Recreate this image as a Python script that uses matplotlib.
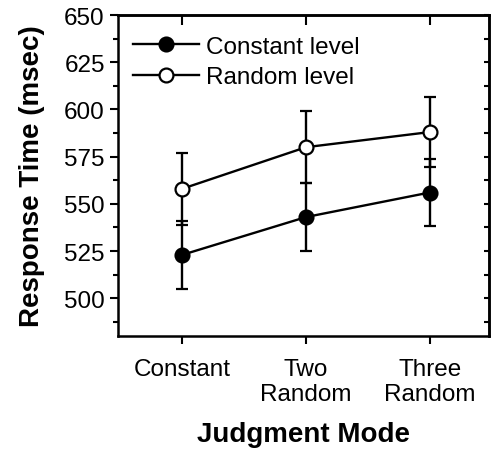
import matplotlib
matplotlib.use('Agg')
import matplotlib.pyplot as plt
from matplotlib.ticker import MultipleLocator
from matplotlib.lines import Line2D

plt.rcParams['font.family'] = ['Liberation Sans', 'DejaVu Sans']

modes = ['Constant', 'Two\nRandom', 'Three\nRandom']
constant_rt = [523, 543, 556]
constant_err = [18, 18, 18]
random_rt = [558, 580, 588]
random_err = [19, 19, 18.5]

fig = plt.figure(figsize=(4.94, 4.52), dpi=100)
ax = fig.add_axes([0.239, 0.2544, 0.751, 0.7102])

x = list(range(len(modes)))
ax.errorbar(x, constant_rt, yerr=constant_err, color='black', lw=1.7,
            marker='o', ms=10, mfc='black', mec='black', mew=1.6,
            capsize=4, capthick=1.7, zorder=3)
ax.errorbar(x, random_rt, yerr=random_err, color='black', lw=1.7,
            marker='o', ms=10, mfc='white', mec='black', mew=1.6,
            capsize=4, capthick=1.7, zorder=4)

ax.set_xlim(-0.52, 2.48)
ax.set_ylim(480, 650)
ax.set_xticks(x)
ax.set_xticklabels(modes, fontsize=17.5, linespacing=1.15)
ax.yaxis.set_major_locator(MultipleLocator(25))
ax.yaxis.set_minor_locator(MultipleLocator(12.5))
ax.set_yticks([500, 525, 550, 575, 600, 625, 650])
ax.tick_params(axis='y', which='major', labelsize=17.5, direction='out', length=6, width=1.5)
ax.tick_params(axis='y', which='minor', direction='out', length=3.5, width=1.5)
ax.tick_params(axis='x', direction='out', length=6, width=1.5, pad=10)

# inward ticks on the right and top
ax_r = ax.secondary_yaxis('right')
ax_r.yaxis.set_major_locator(MultipleLocator(12.5))
ax_r.tick_params(direction='in', length=3.5, width=1.5, labelright=False)
ax_t = ax.secondary_xaxis('top')
ax_t.set_xticks(x)
ax_t.tick_params(direction='in', length=7, width=1.5, labeltop=False)
for sp in ['left', 'bottom', 'right', 'top']:
    ax.spines[sp].set_linewidth(1.8)
ax_r.spines['right'].set_linewidth(1.8)
ax_t.spines['top'].set_linewidth(1.8)

ax.set_xlabel('Judgment Mode', fontsize=20, fontweight='bold', labelpad=12)
ax.set_ylabel('Response Time (msec)', fontsize=20, fontweight='bold', labelpad=14)

handles = [
    Line2D([], [], color='black', lw=1.7, marker='o', ms=10, mfc='black', mec='black', mew=1.6),
    Line2D([], [], color='black', lw=1.7, marker='o', ms=10, mfc='white', mec='black', mew=1.6),
]
ax.legend(handles, ['Constant level', 'Random level'], loc='upper left', frameon=False,
          fontsize=17.5, handlelength=2.7, handletextpad=0.3, labelspacing=0.35,
          borderaxespad=0.45, bbox_to_anchor=(-0.015, 1.0))

fig.savefig('out.png', dpi=100)
